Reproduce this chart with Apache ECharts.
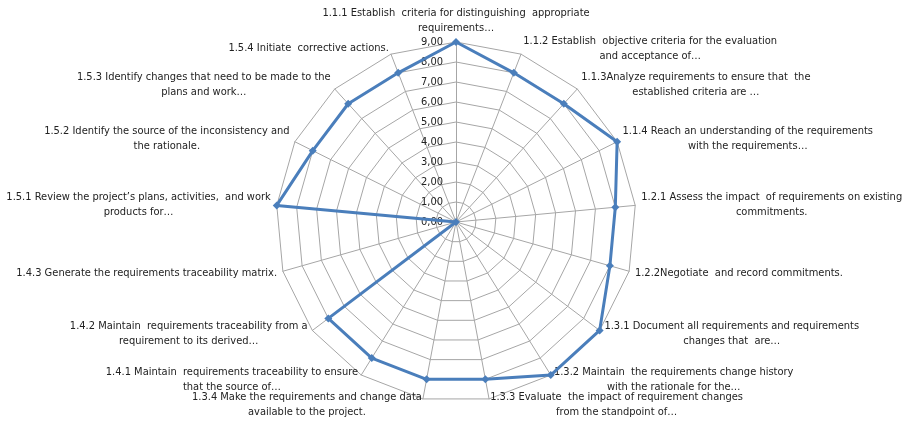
<!DOCTYPE html>
<html>
<head>
<meta charset="utf-8">
<script src="https://cdn.jsdelivr.net/npm/echarts@6/dist/echarts.min.js"></script>
<style>
  html, body { margin: 0; padding: 0; background: #fff; }
  #chart { width: 909px; height: 422px; }
</style>
</head>
<body>
<div id="chart"></div>
<script>
// indicator names, clockwise from the top
const practices = [
    ['1.1.1 Establish  criteria for distinguishing  appropriate', 'requirements…'],
    ['1.1.2 Establish  objective criteria for the evaluation', 'and acceptance of…'],
    ['1.1.3Analyze requirements to ensure that  the', 'established criteria are …'],
    ['1.1.4 Reach an understanding of the requirements', 'with the requirements…'],
    ['1.2.1 Assess the impact  of requirements on existing', 'commitments.'],
    ['1.2.2Negotiate  and record commitments.'],
    ['1.3.1 Document all requirements and requirements', 'changes that  are…'],
    ['1.3.2 Maintain  the requirements change history', 'with the rationale for the…'],
    ['1.3.3 Evaluate  the impact of requirement changes', 'from the standpoint of…'],
    ['1.3.4 Make the requirements and change data', 'available to the project.'],
    ['1.4.1 Maintain  requirements traceability to ensure', 'that the source of…'],
    ['1.4.2 Maintain  requirements traceability from a', 'requirement to its derived…'],
    ['1.4.3 Generate the requirements traceability matrix.'],
    ['1.5.1 Review the project’s plans, activities,  and work', 'products for…'],
    ['1.5.2 Identify the source of the inconsistency and', 'the rationale.'],
    ['1.5.3 Identify changes that need to be made to the', 'plans and work…'],
    ['1.5.4 Initiate  corrective actions.']
];

const scores = [9, 8, 8, 9, 8, 8, 9, 9, 8, 8, 8, 8, 0, 9, 8, 8, 8];

const maxScore = 9;

// echarts lays radar indicators counter-clockwise, so flip the order after the first one
const order = [0].concat(practices.map((p, i) => i).slice(1).reverse());

const chart = echarts.init(document.getElementById('chart'));

const option = {
    animation: false,
    textStyle: {
        fontFamily: '"Liberation Sans Narrow", "DejaVu Sans Condensed", sans-serif'
    },
    radar: {
        center: [456, 222],
        radius: 180,
        startAngle: 90,
        shape: 'polygon',
        splitNumber: 9,
        indicator: order.map((i, k) => ({
            name: practices[i].join('\n'),
            min: 0,
            max: maxScore,
            // only the top spoke carries the scale
            axisLabel: { show: k === 0, padding: [0, 5, 0, 0] }
        })),
        axisName: {
            color: '#222',
            fontSize: 11,
            formatter: (name) => name.split('\n').map(l => '{c|' + l + '}').join('\n'),
            rich: {
                c: { align: 'center', fontSize: 11, lineHeight: 15, color: '#222' }
            }
        },
        nameGap: 6,
        axisLine: { lineStyle: { color: '#a6a6a6', width: 1 } },
        splitLine: { lineStyle: { color: '#a6a6a6', width: 1 } },
        splitArea: { show: false },
        axisTick: { show: false },
        axisLabel: {
            color: '#222',
            fontSize: 11,
            formatter: (v) => v.toFixed(2).replace('.', ',')
        }
    },
    series: [
        {
            type: 'radar',
            symbol: 'diamond',
            symbolSize: 8,
            lineStyle: { color: '#4a7ebb', width: 3 },
            itemStyle: { color: '#4a7ebb' },
            data: [
                { value: order.map(i => scores[i]), name: 'Score' }
            ]
        }
    ]
};

chart.setOption(option);
</script>
</body>
</html>
